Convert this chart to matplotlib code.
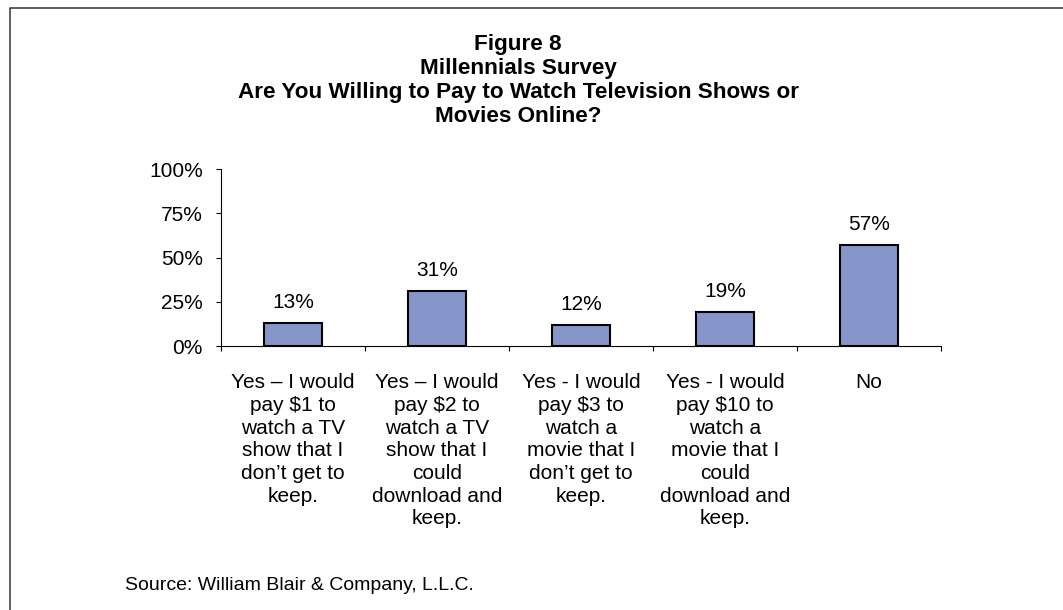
import matplotlib
matplotlib.use("Agg")
import matplotlib.pyplot as plt
from matplotlib.lines import Line2D
import matplotlib.transforms as mtransforms

plt.rcParams['font.family'] = ['Liberation Sans', 'DejaVu Sans']

# Survey answers and share of respondents (%)
categories = [
    "Yes – I would\npay $1 to\nwatch a TV\nshow that I\ndon’t get to\nkeep.",
    "Yes – I would\npay $2 to\nwatch a TV\nshow that I\ncould\ndownload and\nkeep.",
    "Yes - I would\npay $3 to\nwatch a\nmovie that I\ndon’t get to\nkeep.",
    "Yes - I would\npay $10 to\nwatch a\nmovie that I\ncould\ndownload and\nkeep.",
    "No",
]
shares = [13, 31, 12, 19, 57]
y_ticks = [0, 25, 50, 75, 100]
y_tick_labels = ["0%", "25%", "50%", "75%", "100%"]
title_lines = [
    "Figure 8",
    "Millennials Survey",
    "Are You Willing to Pay to Watch Television Shows or",
    "Movies Online?",
]
source_note = "Source: William Blair & Company, L.L.C."

W, H, DPI = 1063, 610, 100
fig = plt.figure(figsize=(W / DPI, H / DPI), dpi=DPI)
fig.patch.set_facecolor("white")

# plot area in pixels
ax_left, ax_right, ax_bottom, ax_top = 221, 941, 346, 169.3
ax = fig.add_axes([ax_left / W, 1 - ax_bottom / H,
                   (ax_right - ax_left) / W, (ax_bottom - ax_top) / H])

n = len(categories)
xs = list(range(n))
ax.bar(xs, shares, width=0.4, color="#8496C9", edgecolor="black",
       linewidth=1.5, zorder=3)

for x, v in zip(xs, shares):
    ax.annotate(f"{v}%", (x, v), xytext=(0, 10.8), textcoords="offset points",
                ha="center", va="baseline", fontsize=15, color="black")

ax.set_xlim(-0.5, n - 0.5)
ax.set_ylim(0, 100)
ax.set_yticks(y_ticks)
ax.set_yticklabels(y_tick_labels, fontsize=15)
ax.set_xticks([i - 0.5 for i in range(n + 1)])
ax.set_xticklabels([])
ax.tick_params(axis="y", direction="out", length=3.6, width=0.8, pad=9.4,
               color="black")
ax.tick_params(axis="x", direction="out", length=3.6, width=0.8,
               color="black")
for side in ("top", "right"):
    ax.spines[side].set_visible(False)
for side in ("left", "bottom"):
    ax.spines[side].set_linewidth(0.8)
    ax.spines[side].set_color("black")

# category labels under each bar
label_tr = mtransforms.blended_transform_factory(ax.transData, ax.transAxes)
label_y = -(373 - ax_bottom) / (ax_bottom - ax_top)
for x, lab in zip(xs, categories):
    ax.text(x, label_y, lab, transform=label_tr, ha="center", va="top",
            fontsize=15, linespacing=1.25, multialignment="center")

# title block
fig.text(518 / W, 1 - 34 / H, "\n".join(title_lines), ha="center", va="top",
         fontsize=16.2, fontweight="bold", linespacing=1.18,
         multialignment="center")

# source note
fig.text(125 / W, 1 - 585 / H, source_note, ha="left", va="center",
         fontsize=14)

# outer frame (top and left edges)
fx = 10 / W
fy = 1 - 7.5 / H
fig.add_artist(Line2D([fx, fx, 1.0], [0.0, fy, fy], transform=fig.transFigure,
                      color="#333333", linewidth=1.1))

fig.savefig("out.png", dpi=DPI, facecolor="white")
